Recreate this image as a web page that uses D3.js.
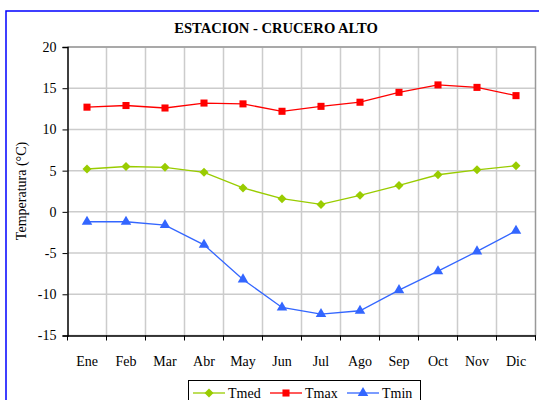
<!DOCTYPE html>
<html><head><meta charset="utf-8">
<script src="https://cdn.jsdelivr.net/npm/d3@7"></script>
<style>body{margin:0;background:#fff}svg{display:block}text{font-family:"Liberation Serif",serif;fill:#000}</style>
</head><body><svg id="c" width="539" height="400"></svg>
<script>
const months = ["Ene","Feb","Mar","Abr","May","Jun","Jul","Ago","Sep","Oct","Nov","Dic"];
const tmed = [5.2,5.5,5.4,4.8,2.9,1.6,0.9,2.0,3.2,4.5,5.1,5.6];
const tmax = [12.7,12.9,12.6,13.2,13.1,12.2,12.8,13.3,14.5,15.4,15.1,14.1];
const tmin = [-1.2,-1.2,-1.6,-4.0,-8.2,-11.6,-12.4,-12.0,-9.5,-7.2,-4.8,-2.3];
const yTicks = [-15,-10,-5,0,5,10,15,20];
const seriesNames = ["Tmed","Tmax","Tmin"];
const colors = ["#99cc00","#ff0000","#3366ff"];
const seriesVals = [tmed, tmax, tmin];

const symbolPaths = [
  d3.symbol().type(d3.symbolSquare).size(40)(),
  d3.symbol().type(d3.symbolSquare).size(50)(),
  d3.symbol().type(d3.symbolTriangle).size(48)()
];
const rot = [45,0,0];

const svg = d3.select("#c");
const L=67.5, R=535.5, T=47, B=335.5;
svg.append("rect").attr("x",6).attr("y",11).attr("width",560).attr("height",420)
  .attr("fill","none").attr("stroke","#0000ff").attr("stroke-width",1.5);

svg.append("text").attr("x",276).attr("y",33).attr("text-anchor","middle")
  .attr("font-weight","bold").attr("font-size",14.6).text("ESTACION - CRUCERO ALTO");

const x = d3.scaleBand().domain(months).range([L,R]);
const y = d3.scaleLinear().domain([-15,20]).range([B,T]);

const g = svg.append("g");
g.selectAll(".hg").data(yTicks).join("line")
  .attr("x1",L).attr("x2",R).attr("y1",d=>y(d)).attr("y2",d=>y(d))
  .attr("stroke","#cccccc").attr("stroke-width",1.5);
g.selectAll(".vg").data(months.slice(1)).join("line")
  .attr("x1",d=>x(d)).attr("x2",d=>x(d)).attr("y1",T).attr("y2",B)
  .attr("stroke","#cccccc").attr("stroke-width",1.5);
svg.append("path").attr("d",`M${L},${T}H${R}V${B}`).attr("fill","none").attr("stroke","#999").attr("stroke-width",1.5);

const ya = svg.append("g").attr("transform",`translate(${L},0)`)
  .call(d3.axisLeft(y).tickValues(yTicks).tickFormat(d=>String(d)).tickSize(5).tickPadding(6));
ya.select(".domain").attr("stroke","#000").attr("stroke-width",1.5);
ya.selectAll(".tick line").attr("stroke","#000");
ya.selectAll("text").attr("font-size",14).attr("font-family","Liberation Serif");

const xa = svg.append("g").attr("transform",`translate(0,${B})`)
  .call(d3.axisBottom(x).tickSize(0).tickPadding(21));
xa.select(".domain").attr("stroke","#000").attr("stroke-width",1.5);
xa.selectAll("text").attr("font-size",14).attr("font-family","Liberation Serif");
xa.selectAll(".bt").data(months.map(m=>x(m)).concat([R])).join("line")
  .attr("x1",d=>d).attr("x2",d=>d).attr("y1",0).attr("y2",5).attr("stroke","#000");

svg.append("text").attr("transform","translate(26,191) rotate(-90)")
  .attr("text-anchor","middle").attr("font-size",14).text("Temperatura (°C)");

const cx = m => x(m)+x.bandwidth()/2;
seriesVals.forEach((vals,i)=>{
  const line = d3.line().x((d,j)=>cx(months[j])).y(d=>y(d));
  svg.append("path").datum(vals).attr("d",line).attr("fill","none")
    .attr("stroke",colors[i]).attr("stroke-width",1.3);
  svg.selectAll(".m"+i).data(vals).join("path")
    .attr("transform",(d,j)=>`translate(${cx(months[j])},${y(d)}) rotate(${rot[i]})`)
    .attr("d",symbolPaths[i])
    .attr("fill",colors[i]);
});

const lg = svg.append("g");
lg.append("rect").attr("x",188.5).attr("y",380.5).attr("width",232).attr("height",40)
  .attr("fill","#fff").attr("stroke","#000").attr("stroke-width",1);
const lx = [193,270,347];
seriesNames.forEach((n,i)=>{
  lg.append("line").attr("x1",lx[i]).attr("x2",lx[i]+32).attr("y1",393).attr("y2",393)
    .attr("stroke",colors[i]).attr("stroke-width",1.3);
  lg.append("path").attr("transform",`translate(${lx[i]+16},393) rotate(${rot[i]})`)
    .attr("d",symbolPaths[i]).attr("fill",colors[i]);
  lg.append("text").attr("x",lx[i]+35).attr("y",398).attr("font-size",14).text(n);
});
</script></body></html>
